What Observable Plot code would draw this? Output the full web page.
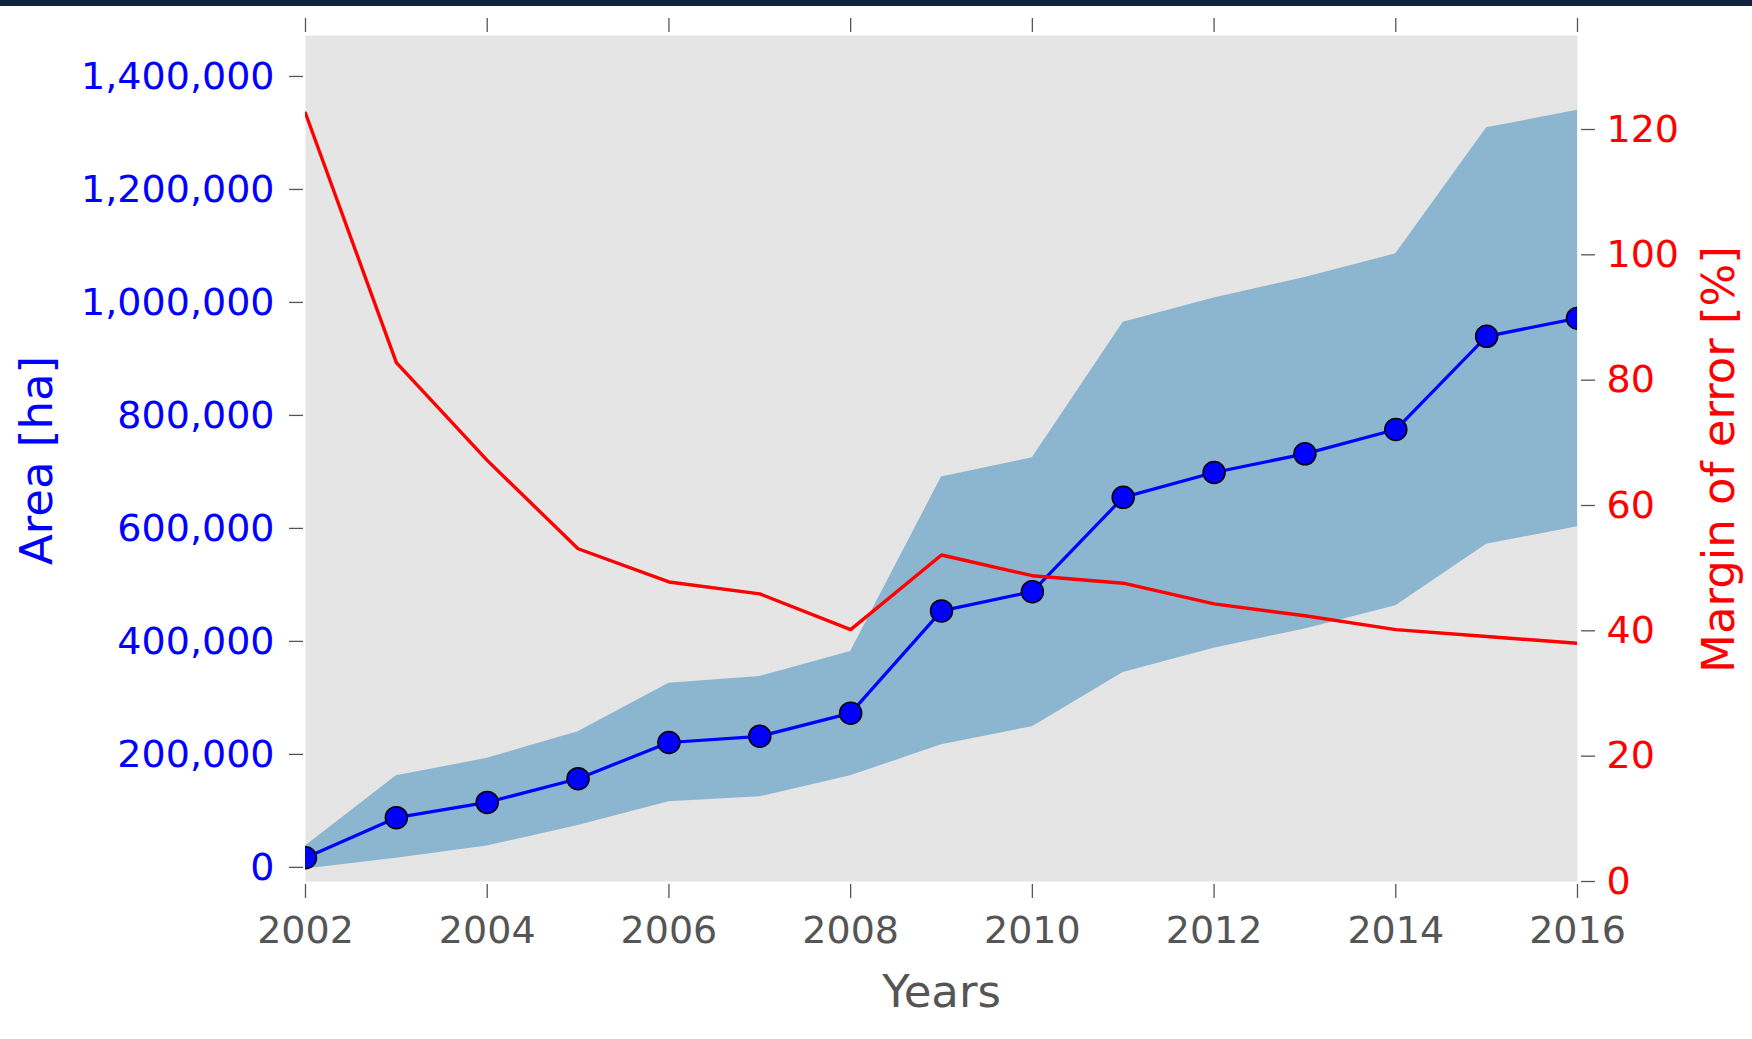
<!DOCTYPE html>
<html>
<head>
<meta charset="utf-8">
<script src="https://cdn.jsdelivr.net/npm/d3@7"></script>
<script src="https://cdn.jsdelivr.net/npm/@observablehq/plot@0.6"></script>
<style>
  html, body { margin: 0; padding: 0; background: #ffffff; }
  #topbar { width: 1752px; height: 6px; background: #10233f; }
  #chart { position: relative; width: 1752px; height: 1033px; }
  #chart svg { position: absolute; left: 0; top: 0; max-width: none; }
</style>
</head>
<body>
<div id="topbar"></div>
<div id="chart"></div>
<script>
// Yearly estimated area with its confidence band, and the margin of error
const years  = [2002, 2003, 2004, 2005, 2006, 2007, 2008, 2009, 2010, 2011, 2012, 2013, 2014, 2015, 2016];
const area   = [17000, 88000, 115000, 157000, 221000, 232000, 273000, 454000, 488000, 655000, 699000, 732000, 775000, 940000, 972000];
const upper  = [38000, 162000, 193000, 240000, 326000, 338000, 382000, 691000, 725000, 965000, 1008000, 1044000, 1086000, 1309000, 1340000];
const lower  = [-3000, 16000, 38000, 74000, 116000, 125000, 162000, 217000, 249000, 345000, 388000, 422000, 463000, 572000, 603000];
const margin = [122.6, 82.8, 67.2, 53.1, 47.8, 45.9, 40.2, 52.1, 48.8, 47.6, 44.3, 42.4, 40.2, 39.1, 38.0];

const xTicks = [2002, 2004, 2006, 2008, 2010, 2012, 2014, 2016];
const areaTicks = [0, 200000, 400000, 600000, 800000, 1000000, 1200000, 1400000];
const marginTicks = [0, 20, 40, 60, 80, 100, 120];

const rows = years.map((year, i) => ({year, area: area[i], upper: upper[i], lower: lower[i], margin: margin[i]}));

const W = 1752, H = 1033;
const layout = {width: W, height: H, marginTop: 29, marginBottom: 158, marginLeft: 305, marginRight: 175};
const font = {fontFamily: "DejaVu Sans", fontSize: "38px", overflow: "visible"};
const xScale = {domain: [2002, 2016], axis: null};

// Left axis: area in hectares
const areaPlot = Plot.plot({
  ...layout,
  style: {...font, background: "transparent"},
  x: xScale,
  y: {domain: [-25000, 1472500], axis: null},
  marks: [
    Plot.frame({fill: "#e5e5e5", stroke: "none"}),
    Plot.areaY(rows, {x: "year", y1: "lower", y2: "upper", fill: "#8cb6d0", clip: true}),
    Plot.lineY(rows, {x: "year", y: "area", stroke: "#0000ff", strokeWidth: 3.2, clip: true}),
    Plot.dot(rows, {x: "year", y: "area", r: 11, fill: "#0000ff", stroke: "#000000", strokeWidth: 1.5, clip: true}),
    Plot.axisX(xTicks, {anchor: "bottom", tickSize: 14, tickPadding: 18, dy: 3, tickFormat: d => String(d),
      stroke: "#555555", fill: "#555555", strokeWidth: 1.3, label: null}),
    Plot.axisX(xTicks, {anchor: "top", tickSize: 14, dy: -4, tickFormat: () => "",
      stroke: "#555555", strokeWidth: 1.3, label: null}),
    Plot.axisY(areaTicks, {anchor: "left", tickSize: 14, tickPadding: 15, dx: -2, tickFormat: d3.format(","),
      stroke: "#555555", fill: "#0000ff", strokeWidth: 1.3, label: null}),
    Plot.text(["Years"], {frameAnchor: "bottom", dy: 125.7, lineAnchor: "bottom", text: d => d,
      fill: "#555555", fontSize: 45}),
    Plot.text(["Area [ha]"], {frameAnchor: "left", dx: -253.3, dy: 2, rotate: -90, lineAnchor: "bottom",
      textAnchor: "middle", text: d => d, fill: "#0000ff", fontSize: 45})
  ]
});

// Right axis: margin of error in percent
const marginPlot = Plot.plot({
  ...layout,
  style: {...font, background: "transparent"},
  x: xScale,
  y: {domain: [0, 135], axis: null},
  marks: [
    Plot.lineY(rows, {x: "year", y: "margin", stroke: "#ff0000", strokeWidth: 3.4, clip: true}),
    Plot.axisY(marginTicks, {anchor: "right", tickSize: 14, tickPadding: 12, dx: 3, tickFormat: d => String(d),
      stroke: "#555555", fill: "#ff0000", strokeWidth: 1.3, label: null}),
    Plot.text(["Margin of error [%]"], {frameAnchor: "right", dx: 156, dy: 1, rotate: -90, lineAnchor: "bottom",
      textAnchor: "middle", text: d => d, fill: "#ff0000", fontSize: 45})
  ]
});

const chart = document.getElementById("chart");
chart.appendChild(areaPlot);
chart.appendChild(marginPlot);
</script>
</body>
</html>
